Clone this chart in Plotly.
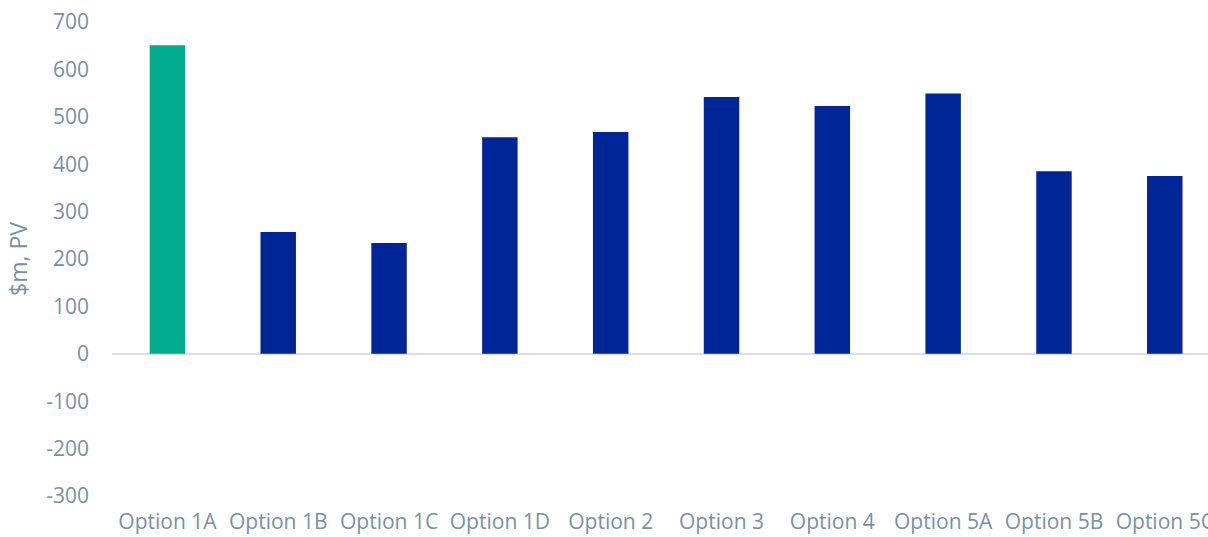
import plotly.graph_objects as go

# Present value of each option, $m
options = ["Option 1A", "Option 1B", "Option 1C", "Option 1D", "Option 2",
           "Option 3", "Option 4", "Option 5A", "Option 5B", "Option 5C"]
pv_values = [651, 257, 234, 457, 468, 542, 523, 549, 385, 375]
y_ticks = [-300, -200, -100, 0, 100, 200, 300, 400, 500, 600, 700]

GREEN = "#00AB8E"
BLUE = "#002596"
TEXT = "#7b8fa8"

bar_colors = [GREEN] + [BLUE] * (len(options) - 1)

fig = go.Figure(
    go.Bar(
        x=list(range(len(options))),
        y=pv_values,
        marker=dict(color=bar_colors, line=dict(width=0)),
        width=0.32,
        hoverinfo="skip",
    )
)

font_family = "Open Sans, Lato, sans-serif"

fig.update_layout(
    width=1208,
    height=537,
    margin=dict(l=112, r=0, t=22, b=41),
    paper_bgcolor="white",
    plot_bgcolor="white",
    showlegend=False,
    font=dict(family=font_family, size=21, color=TEXT),
    xaxis=dict(
        tickmode="array",
        tickvals=list(range(len(options))),
        ticktext=options,
        range=[-0.5, 9.39],
        showgrid=False,
        showline=False,
        zeroline=False,
        ticks="",
        automargin=False,
        ticklabelstandoff=11,
        ticklabeloverflow="allow",
        tickfont=dict(size=21, color=TEXT),
    ),
    yaxis=dict(
        range=[-300, 700],
        tickmode="array",
        tickvals=y_ticks,
        ticktext=[str(v) for v in y_ticks],
        showgrid=False,
        showline=False,
        zeroline=True,
        zerolinecolor="#d9dee7",
        zerolinewidth=2,
        ticks="",
        automargin=False,
        ticklabelstandoff=22,
        tickfont=dict(size=21, color=TEXT),
        title=dict(text="$m, PV", font=dict(size=23, color=TEXT), standoff=12),
    ),
)

fig.write_html("out.html")
